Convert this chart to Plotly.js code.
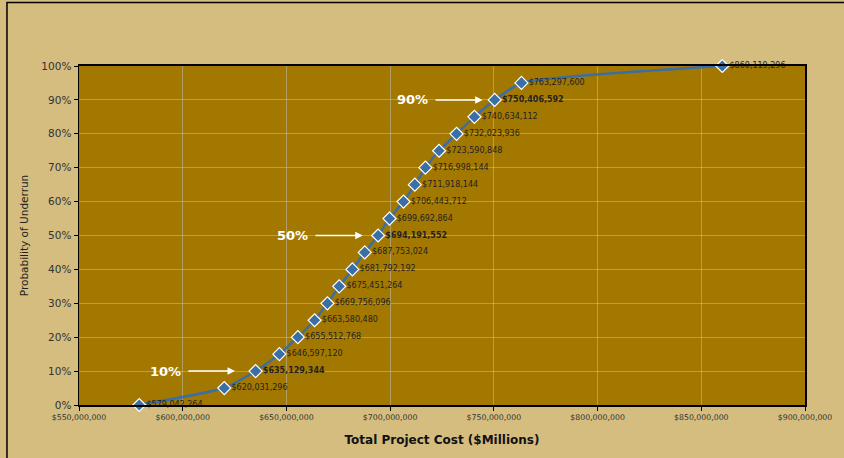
<!DOCTYPE html>
<html>
<head>
<meta charset="utf-8">
<script src="https://cdn.plot.ly/plotly-3.0.1.min.js"></script>
<style>
  html, body { margin: 0; padding: 0; background: #d4bd7f; }
  #chart { width: 844px; height: 458px; }
</style>
</head>
<body>
<div id="chart"></div>
<script>
// Probability levels (fraction) and total project costs (USD)
const probabilities = [0, 0.05, 0.10, 0.15, 0.20, 0.25, 0.30, 0.35, 0.40, 0.45, 0.50,
                       0.55, 0.60, 0.65, 0.70, 0.75, 0.80, 0.85, 0.90, 0.95, 1.00];
const costs = [579042264, 620031296, 635129344, 646597120, 655512768, 663580480,
               669756096, 675451264, 681792192, 687753024, 694191552, 699692864,
               706443712, 711918144, 716998144, 723590848, 732023936, 740634112,
               750406592, 763297600, 860119296];
const highlightLevels = [0.10, 0.50, 0.90];
const highlightNames = ["10%", "50%", "90%"];
// arrow tail / head x positions (data units) for the highlight callouts
const arrowTails = [602e6, 663.3e6, 721.2e6];
const arrowHeads = [625.2e6, 686.8e6, 744.6e6];
const textX = [591.5e6, 652.7e6, 710.6e6];

const labels = costs.map((c, i) => {
  const s = '$' + c.toLocaleString('en-US');
  const isHi = highlightLevels.some(h => Math.abs(h - probabilities[i]) < 1e-9);
  return isHi ? '<b>' + s + '</b>' : s;
});

const trace = {
  x: costs,
  y: probabilities,
  type: 'scatter',
  mode: 'lines+markers+text',
  line: { color: '#3a6ea6', width: 2.5, shape: 'spline', smoothing: 0.5 },
  marker: { symbol: 'diamond', size: 10, color: '#3a6ea6', line: { color: '#ffffff', width: 1.2 } },
  text: labels,
  textposition: 'middle right',
  textfont: { family: 'DejaVu Sans', size: 8, color: '#222222' },
  cliponaxis: false,
  hoverinfo: 'x+y'
};

const annotations = [];
highlightLevels.forEach((lvl, i) => {
  annotations.push({
    x: arrowHeads[i], y: lvl, xref: 'x', yref: 'y',
    ax: arrowTails[i], ay: lvl, axref: 'x', ayref: 'y',
    text: '', showarrow: true, arrowhead: 2, arrowsize: 1, arrowwidth: 1.5,
    arrowcolor: '#ffffff', standoff: 0, startstandoff: 0
  });
  annotations.push({
    x: textX[i], y: lvl, xref: 'x', yref: 'y',
    text: '<b>' + highlightNames[i] + '</b>', showarrow: false,
    xanchor: 'center', yanchor: 'middle',
    font: { family: 'DejaVu Sans', size: 13, color: '#ffffff' }
  });
});

const layout = {
  width: 844, height: 458,
  paper_bgcolor: '#d4bd7f',
  plot_bgcolor: '#a37800',
  margin: { l: 79, r: 39, t: 66, b: 53 },
  showlegend: false,
  font: { family: 'DejaVu Sans', color: '#222222' },
  xaxis: {
    range: [550e6, 900e6],
    dtick: 50e6, tick0: 550e6,
    tickprefix: '$', tickformat: ',d',
    tickfont: { family: 'DejaVu Sans', size: 7.8, color: '#333333' },
    ticks: 'outside', ticklen: 4, tickcolor: '#000000',
    showgrid: true, gridcolor: 'rgba(195,195,195,0.5)', gridwidth: 1,
    showline: true, linecolor: '#000000', linewidth: 2, mirror: true,
    zeroline: false,
    title: { text: '<b>Total Project Cost ($Millions)</b>', standoff: 14,
             font: { family: 'DejaVu Sans', size: 12, color: '#111111' } },
    automargin: false
  },
  yaxis: {
    range: [0, 1],
    dtick: 0.1, tickformat: '.0%',
    tickfont: { family: 'DejaVu Sans', size: 10.5, color: '#333333' },
    ticks: 'outside', ticklen: 4, tickcolor: '#000000',
    showgrid: true, gridcolor: 'rgba(195,195,195,0.5)', gridwidth: 1,
    showline: true, linecolor: '#000000', linewidth: 1.5, mirror: true,
    zeroline: false,
    title: { text: 'Probability of Underrun', standoff: 10,
             font: { family: 'DejaVu Sans', size: 10.5, color: '#222222' } },
    automargin: false
  },
  annotations: annotations,
  shapes: [{
    type: 'rect', xref: 'paper', yref: 'paper',
    x0: -0.0992, x1: 1.2, y0: -0.3, y1: 1.187,
    line: { color: '#000000', width: 1.5 }, fillcolor: 'rgba(0,0,0,0)', layer: 'below'
  }]
};

Plotly.newPlot('chart', [trace], layout, { displayModeBar: false, staticPlot: true });
</script>
</body>
</html>
